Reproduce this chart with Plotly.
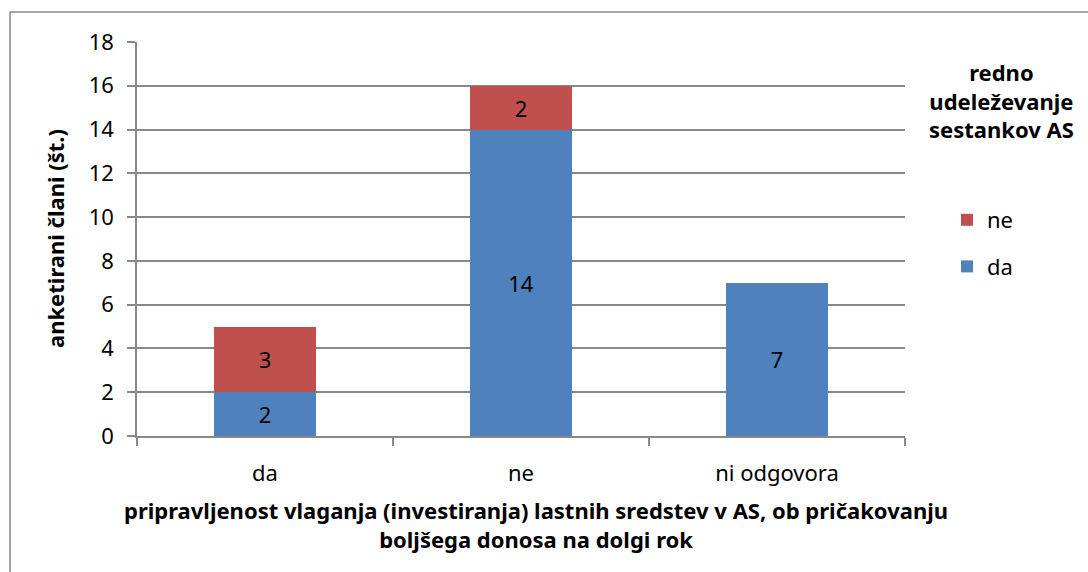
import plotly.graph_objects as go

categories = ["da", "ne", "ni odgovora"]
da_values = [2, 14, 7]
ne_values = [3, 2, None]
y_ticks = [0, 2, 4, 6, 8, 10, 12, 14, 16, 18]

FONT = "Noto Sans"
FS = 22
GRID = "#888888"

W, H = 1088, 572
L, R, T, B = 137, 905, 42, 436


def px(x):
    return (x - L) / (R - L)


def py(y):
    return (B - y) / (B - T)


fig = go.Figure()
fig.add_trace(go.Bar(
    x=categories, y=da_values, name="da", legendgroup="da", legendrank=2,
    marker=dict(color="#4F81BD", line_width=0),
    text=da_values, textposition="inside", insidetextanchor="middle",
    textfont=dict(color="black", size=FS, family=FONT),
))
fig.add_trace(go.Bar(
    x=categories, y=ne_values, name="ne", legendgroup="ne", legendrank=1,
    marker=dict(color="#C0504D", line_width=0),
    text=ne_values, textposition="inside", insidetextanchor="middle",
    textfont=dict(color="black", size=FS, family=FONT),
))

fig.update_layout(
    width=W, height=H,
    barmode="stack", bargap=0.6,
    plot_bgcolor="white", paper_bgcolor="white",
    font=dict(family=FONT, size=FS, color="black"),
    margin=dict(l=L, r=W - R, t=T, b=H - B, pad=0, autoexpand=False),
    uniformtext=dict(mode="show", minsize=10),
    legend=dict(
        x=px(947), xanchor="left",
        y=py(199), yanchor="top",
        traceorder="grouped", tracegroupgap=15,
        font=dict(size=FS, family=FONT),
        itemwidth=30,
    ),
)

fig.update_xaxes(
    showline=True, linecolor=GRID, linewidth=1.5,
    ticks="outside", tickson="boundaries", ticklen=8, tickcolor=GRID, tickwidth=1.5,
    showgrid=False, ticklabelstandoff=17,
)
fig.update_yaxes(
    range=[0, 18], tickvals=y_ticks,
    showline=True, linecolor=GRID, linewidth=1.5,
    ticks="outside", ticklen=8, tickcolor=GRID, tickwidth=1.5,
    showgrid=True, gridcolor=GRID, gridwidth=1.5,
    zeroline=False, ticklabelstandoff=9,
)

# y axis title
fig.add_annotation(
    text="<b>anketirani člani (št.)</b>", textangle=-90,
    xref="paper", yref="paper", x=px(55), y=py(239),
    xanchor="center", yanchor="middle", showarrow=False,
)

# legend title
fig.add_annotation(
    text="<b>redno<br>udeleževanje<br>sestankov AS</b>",
    xref="paper", yref="paper", x=px(1001), y=py(100),
    xanchor="center", yanchor="middle",
    showarrow=False, align="center",
)

# x axis title
fig.add_annotation(
    text="<b>pripravljenost vlaganja (investiranja) lastnih sredstev v AS, ob pričakovanju<br>boljšega donosa na dolgi rok</b>",
    xref="paper", yref="paper", x=px(536), y=py(524),
    xanchor="center", yanchor="middle",
    showarrow=False, align="center",
)

# outer chart border
fig.add_shape(
    type="rect", xref="paper", yref="paper",
    x0=px(10), x1=px(1100), y0=py(590), y1=py(12),
    line=dict(color=GRID, width=1.5), layer="below",
)

fig.write_html("out.html", config={"displayModeBar": False},
               post_script="document.body.style.margin='0';")
